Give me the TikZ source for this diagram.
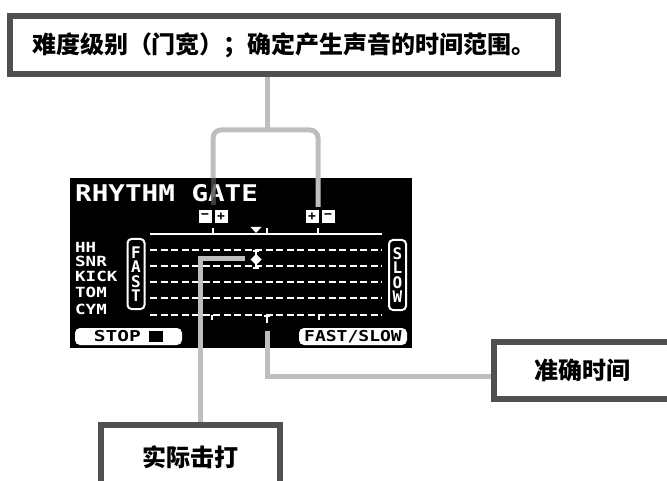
\documentclass[tikz,border=0pt]{standalone}
\usepackage{fontspec}
\newfontfamily\cjk{Noto Sans CJK SC}
\newfontfamily\lcd{DejaVu Sans Mono}
\definecolor{marco}{HTML}{505050}
\definecolor{gris}{HTML}{BCBEC0}
\tikzset{
  caja/.style={draw=marco, line width=6pt, fill=white, inner sep=0pt,
    font=\cjk\bfseries\fontsize{24}{24}\selectfont},
  guia/.style={draw=gris, line width=5pt},
  lcdtext/.style={text=white, inner sep=0pt, anchor=west,
    font=\lcd\bfseries\fontsize{14}{14}\selectfont},
  fila/.style={white, line width=2pt, dash pattern=on 7pt off 3.5pt},
  marca/.style={white, line width=1.5pt},
  boton/.style={fill=white, rounded corners=5pt, minimum height=17, inner sep=0pt,
    text=black, font=\lcd\bfseries\fontsize{15}{15}\selectfont},
  signo/.style={fill=white, minimum size=13, inner sep=0pt, text=black,
    font=\lcd\bfseries\fontsize{13}{13}\selectfont},
  vertical/.style={draw=white, line width=2pt, fill=black, rounded corners=4pt,
    minimum width=17, minimum height=70, inner sep=0pt, align=center, text=white,
    font=\lcd\bfseries\fontsize{16}{14.5}\selectfont}
}
\begin{document}
\begin{tikzpicture}[x=1pt, y=-1pt]
    \useasboundingbox (0,0) rectangle (667,481);
    \clip (0,0) rectangle (667,481);
    % Pantalla
    \node[fill=black, minimum width=342, minimum height=170, inner sep=0pt] (pantalla) at (241,263) {};
    \node[lcdtext, font=\lcd\bfseries\fontsize{23}{23}\selectfont] (titulo) at (75,193) {\scalebox{1.2}[1]{RHYTHM GATE}};
    \foreach \t/\y in {HH/247,SNR/261.5,KICK/276,TOM/292,CYM/309}
        \node[lcdtext] (\t) at (75,\y) {\scalebox{1.25}[1]{\t}};
    \node[vertical] (rapido) at (136,274) {F\\A\\S\\T};
    \node[vertical] (lento) at (397.5,275) {S\\L\\O\\W};
    % Botones
    \node[signo] (menosA) at (205,216.5) {−};
    \node[signo] (masA) at (221,216.5) {+};
    \node[signo] (masB) at (312,216.5) {+};
    \node[signo] (menosB) at (328,216.5) {−};
    \node[boton, minimum width=107] (stop) at (128.5,336.5) {\scalebox{1.3}[1]{STOP\hspace{6pt}\rule{11pt}{11pt}}};
    \node[boton, minimum width=108] (cambio) at (353,336.5) {\scalebox{1.2}[1]{FAST/SLOW}};
    % Escala
    \draw[white, line width=2pt] (150,234) -- (382,234);
    \foreach \x in {213,267,318}
        \draw[marca] (\x,234) -- (\x,228);
    \fill[white] (250.5,227) -- (261.5,227) -- (256,233) -- cycle;
    \foreach \y in {250,266,282,298,315}
        \draw[fila] (150,\y) -- (382,\y);
    \foreach \x in {212,319}
        \draw[marca] (\x,315) -- (\x,320);
    \draw[marca] (267,315) -- (267,323);
    \draw[marca] (264,316) -- (270,316);
    % Golpe
    \draw[marca] (256,251) -- (256,268);
    \draw[marca] (253,251) -- (259,251);
    \draw[marca] (253,268) -- (259,268);
    \fill[white] (256,254) -- (261.5,259.5) -- (256,265) -- (250.5,259.5) -- cycle;
    % Cajas
    \node[caja, minimum width=548, minimum height=58] (ancho) at (284,45) {难度级别（门宽）；确定产生声音的时间范围。};
    \node[caja, minimum width=179, minimum height=65] (real) at (190.5,457.5) {实际击打};
    \node[caja, minimum width=176, minimum height=57] (exacto) at (582,370.5) {准确时间};
    % Conectores
    \coordinate (tronco) at (267,130);
    \coordinate (menos) at (213,205);
    \coordinate (mas) at (318,207);
    \coordinate (golpe) at (245,259);
    \coordinate (centro) at (267,331);
    \draw[guia] (ancho.south -| tronco) -- (tronco);
    \draw[guia, rounded corners=8pt] (menos |- pantalla.north) -- (menos |- tronco) -- (mas |- tronco) -- (mas);
    \draw[guia, draw=gris!40!black, opacity=.8] (menos |- pantalla.north) -- (menos);
    \draw[guia] (golpe) -| ([xshift=10pt]real.north);
    \draw[guia] (centro) |- ([yshift=-5.5pt]exacto.west);
\end{tikzpicture}
\end{document}
